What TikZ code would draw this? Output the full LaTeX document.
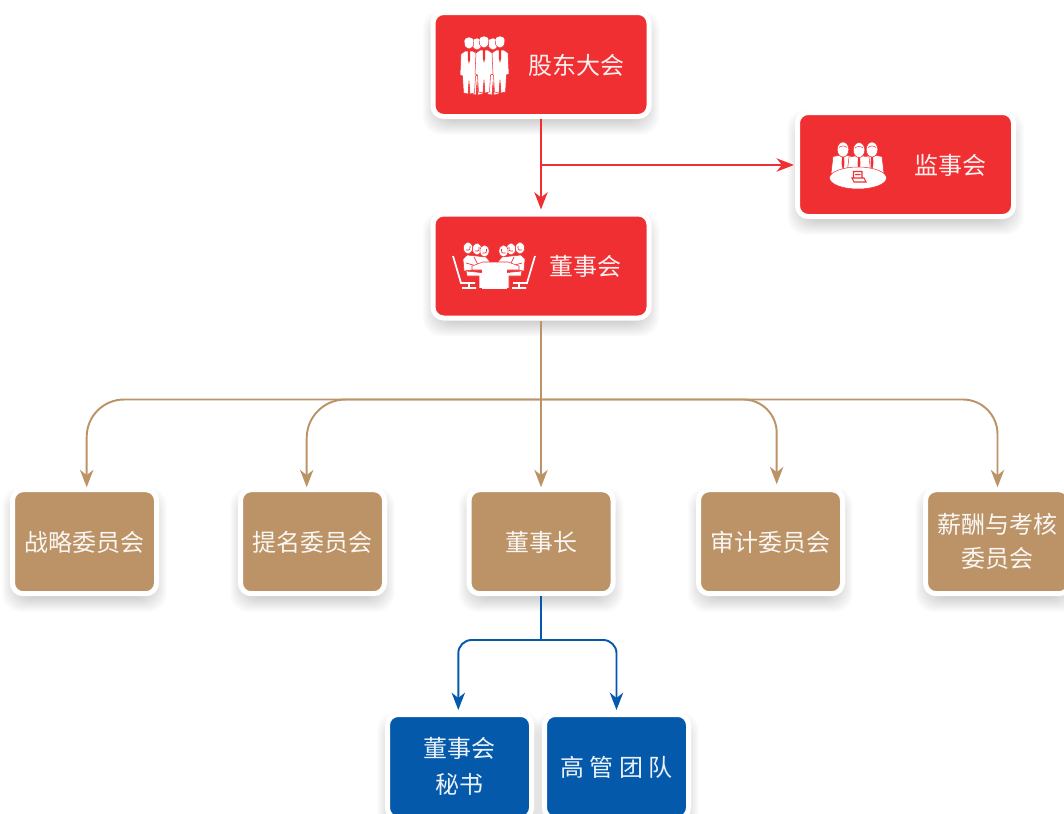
\documentclass[tikz,border=0pt]{standalone}
\usepackage{fontspec}
\setmainfont{Noto Sans CJK SC}
\usetikzlibrary{arrows.meta,backgrounds}
\definecolor{chartred}{HTML}{F02F33}
\definecolor{charttan}{HTML}{BB9367}
\definecolor{chartblue}{HTML}{0459AA}
\tikzset{
  chartbox/.style={draw=white,line width=3.75pt,rounded corners=8pt,inner sep=0pt,
    text=white,text opacity=.92,align=center,font=\fontsize{18}{25.5}\selectfont,
    execute at begin node={\rule{0pt}{16.4pt}}},
  redbox/.style={chartbox,fill=chartred,minimum width=162pt,minimum height=78pt},
  tanbox/.style={chartbox,fill=charttan,minimum width=108pt,minimum height=78pt},
  bluebox/.style={chartbox,fill=chartblue,minimum width=108pt,minimum height=78pt,
    font=\fontsize{18}{27}\selectfont},
  link/.style={line width=1.45pt,-{Stealth[length=13pt,width=10pt,inset=4pt]}},
  plainlink/.style={line width=1.45pt},
  iconpart/.style={fill=white,draw=chartred,line width=.4pt,line join=round},
  iconline/.style={draw=white,line width=1.3pt},
  iconmark/.style={fill=chartred,draw=none},
  standman/.pic={
    \path[iconpart] (-8,11) -- (-4,8) -- (4,8) -- (8,11) -- (9,32) -- (6.5,33) -- (5.5,50)
      -- (1,51) -- (0,38) -- (-1,51) -- (-5.5,50) -- (-6.5,33) -- (-9,32) -- cycle;
    \path[iconmark] (-1,8) -- (1,8) -- (1.2,16) -- (0,21) -- (-1.2,16) -- cycle;
    \path[iconpart] (0,0) ellipse (4.8 and 6);
    \path[fill=white] (-5,-1) .. controls (-5,-7) and (5,-7) .. (5,-1) -- (3,-3) -- (-3,-3) -- cycle;
  },
  seatman/.pic={
    \path[iconpart] (-10,7) -- (-4,6) -- (4,6) -- (10,7) -- (12,24) -- (-12,24) -- cycle;
    \path[iconmark] (-1,7) -- (1,7) -- (1.4,14) -- (0,22) -- (-1.4,14) -- cycle;
    \path[iconpart] (0,0) ellipse (5.8 and 7.5);
    \draw[chartred,line width=.4pt] (-4,-2) .. controls (-2,-4) and (2,-4) .. (4,-2);
  },
  boardside/.pic={
    \draw[iconline] (-41,-12) -- (-33,15) -- (-19,15) (-25,15) -- (-25,20) (-32,20) -- (-18,20);
    \foreach \hx/\hy in {-26/-20,-17/-19,-9.5/-17}{
      \path[iconpart] (\hx,\hy) ellipse (4.6 and 6);
      \draw[chartred,line width=.5pt] (\hx-2,\hy+2) .. controls (\hx+2,\hy+3) and (\hx+3,\hy) .. (\hx+2,\hy-2);
    }
    \path[iconpart] (-31,-9) -- (-27,-13) -- (-8,-11) -- (-3,-5) -- (-10,-3) -- (-14,1) -- (-30,3) -- cycle;
    \draw[chartred,line width=.5pt] (-28,-5) -- (-14,-1) (-20,-11) -- (-16,-3);
    \path[iconpart] (-28,3) -- (-9,5) -- (-9,20.5) -- (-15,20.5) -- (-15,8) -- (-27,8) -- cycle;
  },
}
\begin{document}
\begin{tikzpicture}[x=.75pt,y=-.75pt]
\useasboundingbox (0,0) rectangle (1064,814);

% boxes
\node[redbox] (gudong) at (541,64.5) {\hspace*{53.5pt}股东大会};
\node[redbox] (jianshi) at (905.5,164.5) {\hspace*{66.75pt}监事会};
\node[redbox] (dongshi) at (541,266) {\hspace*{66.75pt}董事会};
\node[tanbox] (zhanlue) at (84.5,541.7) {战略委员会};
\node[tanbox] (timing) at (312.5,541.7) {提名委员会};
\node[tanbox] (dongshizhang) at (541,541.7) {董事长};
\node[tanbox] (shenji) at (770.5,541.7) {审计委员会};
\node[tanbox] (xinchou) at (997.5,541.7) {薪酬与考核\\委员会};
\node[bluebox] (mishu) at (459.5,766.5) {董事会\\秘书};
\node[bluebox] (gaoguan) at (616.5,766.5) {高 管 团 队};

% soft shadows under the boxes
\begin{scope}[on background layer]
\foreach \b in {gudong,jianshi,dongshi,zhanlue,timing,dongshizhang,shenji,xinchou,mishu,gaoguan}{
  \foreach \s in {-6,-5.25,...,6}{
    \fill[black,opacity=.012,rounded corners=14pt] ([shift={(-\s pt,-\s pt-6pt)}]\b.south west) rectangle ([shift={(\s pt,\s pt-6pt)}]\b.north east);
  }
}
\end{scope}

% connectors
\coordinate (redfork) at (541,165);
\coordinate (tanfork) at (541,399.5);
\coordinate (bluefork) at (541,640);

\draw[link,chartred] (gudong.south) -- ([yshift=1.5pt]dongshi.north);
\draw[link,chartred] (redfork) -- ([xshift=-.8pt]jianshi.west |- redfork);

\draw[plainlink,charttan] (dongshi.south) -- (tanfork);
\draw[link,charttan] (tanfork) -- (dongshizhang.north);
\draw[link,charttan,rounded corners=28pt] (tanfork) -| ([xshift=1.65pt]zhanlue.north);
\draw[link,charttan,rounded corners=29pt] (tanfork) -| ([xshift=-4.35pt]timing.north);
\draw[link,charttan,rounded corners=25pt] (tanfork) -| ([xshift=4.65pt,yshift=2.25pt]shenji.north);
\draw[link,charttan,rounded corners=26pt] (tanfork) -| (xinchou.north);

\draw[plainlink,chartblue] (dongshizhang.south) -- (bluefork);
\draw[link,chartblue,rounded corners=10pt] (bluefork) -| ([xshift=-.9pt,yshift=1.5pt]mishu.north);
\draw[link,chartblue,rounded corners=10pt] (bluefork) -| ([yshift=1.5pt]gaoguan.north);

% icons
\pic at (477,44) {standman};
\pic at (493,44) {standman};
\pic at (469,43) {standman};
\pic at (500,42) {standman};
\pic at (484,42) {standman};

\pic at (843,149.5) {seatman};
\pic at (872,149.5) {seatman};
\pic at (859,150) {seatman};
\path[iconpart] (858,178) ellipse (28.5 and 11);
\draw[chartred,line width=.8pt] (853.5,171.5) rectangle (862,178) (852,178) -- (864,178) -- (866,182) -- (854,182) -- cycle (855,174.5) -- (860.5,174.5);

\pic at (494,268) {boardside};
\pic[xscale=-1] at (494,268) {boardside};
\path[iconpart] (-22,-2) ++(494,268) -- ++(11,-4) -- ++(25,0) -- ++(11,4) -- ++(0,4) -- ++(-47,0) -- cycle;
\fill[white] (482,266) rectangle (507,288.5);
\end{tikzpicture}
\end{document}
